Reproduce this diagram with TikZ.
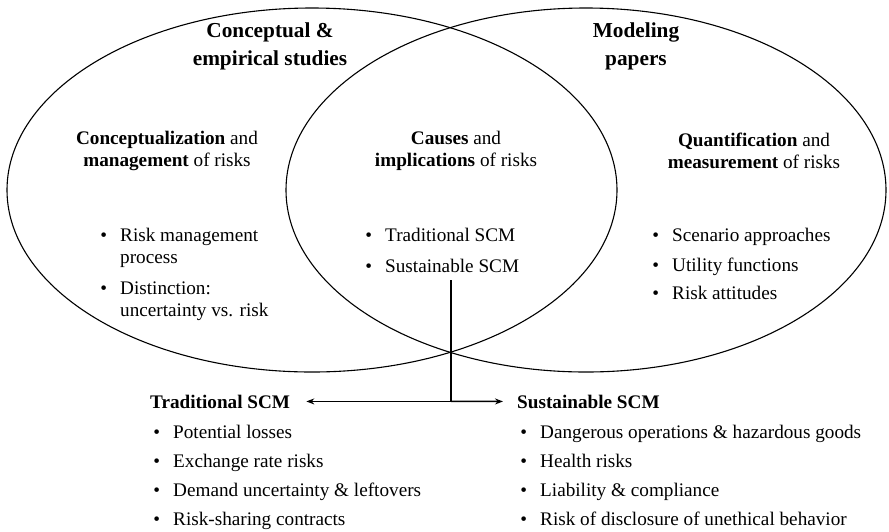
\documentclass[tikz,border=0pt]{standalone}
\usepackage{fontspec}
\setmainfont{Liberation Serif}
\usetikzlibrary{positioning,arrows.meta}

\newcommand{\bul}{\llap{\textbullet\hspace{13pt}}}

\tikzset{
  topic/.style={font=\fontsize{21.3}{28}\selectfont\bfseries, align=center},
  focus/.style={font=\fontsize{19.2}{22.5}\selectfont, align=center},
  listline/.style={font=\fontsize{19.2}{22.5}\selectfont, anchor=base west, inner sep=0pt},
  listhead/.style={listline, font=\fontsize{19.2}{22.5}\selectfont\bfseries},
  ring/.style={line width=1.1pt},
  link/.style={line width=1.5pt},
}

\begin{document}
\begin{tikzpicture}[x=1pt,y=-1pt]
\useasboundingbox (0,0) rectangle (889,531);

% The two fields
\draw[ring] (312,190) ellipse [x radius=305pt, y radius=182pt];
\draw[ring] (586,190) ellipse [x radius=300pt, y radius=182pt];

% Field titles
\node[topic] (conc) at (270,46) {Conceptual \&\\empirical studies};
\node[topic] (model) at (636,46) {Modeling\\papers};

% Topics
\node[focus] (mgmt) at (167,151) {\textbf{Conceptualization} and\\\textbf{management} of risks};
\node[focus] (cause) at (456,151) {\textbf{Causes} and\\\textbf{implications} of risks};
\node[focus] (quant) at (754,151) {\textbf{Quantification} and\\\textbf{measurement} of risks};

% Left list
\node[listline] (l1) at (120,241) {\bul Risk management};
\node[listline] (l1b) at (120,263) {process};
\node[listline] (l2) at (120,294) {\bul Distinction:};
\node[listline] (l2b) at (120,316) {uncertainty vs. risk};

% Middle list
\node[listline] (m1) at (385,241) {\bul Traditional SCM};
\node[listline] (m2) at (385,272) {\bul Sustainable SCM};

% Right list
\node[listline] (r1) at (672,241) {\bul Scenario approaches};
\node[listline] (r2) at (672,271) {\bul Utility functions};
\node[listline] (r3) at (672,299) {\bul Risk attitudes};

% Split into the two streams
\node[listhead] (tradhead) at (150,408) {Traditional SCM};
\node[listhead] (sushead) at (517,408) {Sustainable SCM};

\node[listline] (t1) at (173,438) {\bul Potential losses};
\node[listline] (t2) at (173,467) {\bul Exchange rate risks};
\node[listline] (t3) at (173,496) {\bul Demand uncertainty \& leftovers};
\node[listline] (t4) at (173,525) {\bul Risk-sharing contracts};

\node[listline] (s1) at (540,438) {\bul Dangerous operations \& hazardous goods};
\node[listline] (s2) at (540,467) {\bul Health risks};
\node[listline] (s3) at (540,496) {\bul Liability \& compliance};
\node[listline] (s4) at (540,525) {\bul Risk of disclosure of unethical behavior};

\coordinate (stem) at (451,280);
\coordinate (split) at (stem |- tradhead.east);
\draw[link] (stem) -- (split);
\draw[link,-{Stealth[length=8pt,width=6pt]},shorten >=16pt] (split) -- (tradhead.east);
\draw[link,-{Stealth[length=8pt,width=6pt]},shorten >=14pt] (split) -- (sushead.west);
\end{tikzpicture}
\end{document}
